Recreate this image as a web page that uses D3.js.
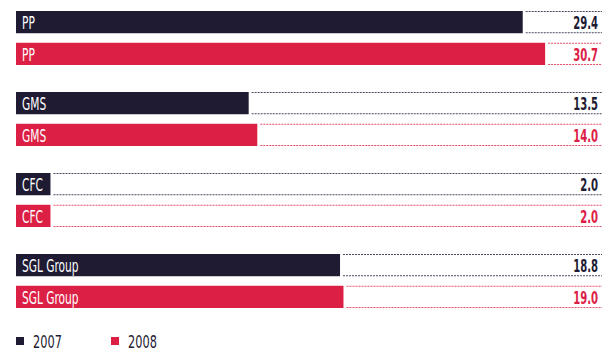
<!DOCTYPE html>
<html>
<head>
<meta charset="utf-8">
<script src="https://cdn.jsdelivr.net/npm/d3@7"></script>
<style>
  body { margin: 0; background: #fff; }
  text { font-family: "DejaVu Sans", sans-serif; }
</style>
</head>
<body>
<div id="chart"></div>
<script>
// data
const companies = ["PP", "GMS", "CFC", "SGL Group"]
const years = ["2007", "2008"]
const values2007 = [29.4, 13.5, 2.0, 18.8]
const values2008 = [30.7, 14.0, 2.0, 19.0]

// constants
const width = 614
const height = 353
const colors = { "2007": "#1e1b33", "2008": "#dc2045" }
const dashColors = { "2007": "#4a485e", "2008": "#e24d6a" }

const data = []
companies.forEach((c, i) => {
  data.push({ company: c, year: "2007", value: values2007[i] })
  data.push({ company: c, year: "2008", value: values2008[i] })
})

// scales
const xScale = d3.scaleLinear()
  .domain([0, 34])
  .range([16, 602])

const groupScale = d3.scaleBand()
  .domain(companies)
  .range([11, 335])
  .paddingInner(0)

const yearScale = d3.scaleBand()
  .domain(years)
  .range([0, 54])
  .paddingInner(0.3)

const svg = d3.select("#chart")
  .append("svg")
  .attr("width", width)
  .attr("height", height)

const y = d => groupScale(d.company) + yearScale(d.year)
const barH = yearScale.bandwidth()

// bars
svg.selectAll("rect.bar")
  .data(data)
  .join("rect")
  .attr("class", "bar")
  .attr("x", xScale(0))
  .attr("y", y)
  .attr("width", d => xScale(d.value) - xScale(0))
  .attr("height", barH)
  .attr("fill", d => colors[d.year])

// dashed lines top + bottom
;["top", "bottom"].forEach(side => {
  svg.selectAll("line." + side)
    .data(data)
    .join("line")
    .attr("class", side)
    .attr("x1", d => xScale(d.value) + 3)
    .attr("x2", xScale.range()[1])
    .attr("y1", d => y(d) + (side === "top" ? 0.5 : barH - 0.5))
    .attr("y2", d => y(d) + (side === "top" ? 0.5 : barH - 0.5))
    .attr("stroke", d => dashColors[d.year])
    .attr("stroke-width", 1)
    .attr("stroke-dasharray", "2,1")
})

// labels inside bars (squeezed for a condensed look)
svg.selectAll("text.company")
  .data(data)
  .join("text")
  .attr("class", "company")
  .attr("transform", d => `translate(${xScale(0) + 6},${y(d) + barH / 2}) scale(0.59,1)`)
  .attr("dy", "0.37em")
  .attr("fill", "#fff")
  .attr("font-size", 18)
  .text(d => d.company)

// values
svg.selectAll("text.value")
  .data(data)
  .join("text")
  .attr("class", "value")
  .attr("transform", d => `translate(${xScale.range()[1] - 4},${y(d) + barH / 2}) scale(0.56,1)`)
  .attr("dy", "0.37em")
  .attr("text-anchor", "end")
  .attr("font-size", 18)
  .attr("font-weight", "bold")
  .attr("fill", d => colors[d.year])
  .text(d => d3.format(".1f")(d.value))

// legend
const legend = svg.selectAll("g.legend")
  .data(years)
  .join("g")
  .attr("class", "legend")
  .attr("transform", (d, i) => `translate(${16 + i * 95},337)`)

legend.append("rect")
  .attr("width", 8)
  .attr("height", 8)
  .attr("fill", d => colors[d])

legend.append("text")
  .attr("transform", "translate(17,4) scale(0.63,1)")
  .attr("dy", "0.37em")
  .attr("font-size", 18)
  .attr("fill", "#1e1b33")
  .text(d => d)
</script>
</body>
</html>
